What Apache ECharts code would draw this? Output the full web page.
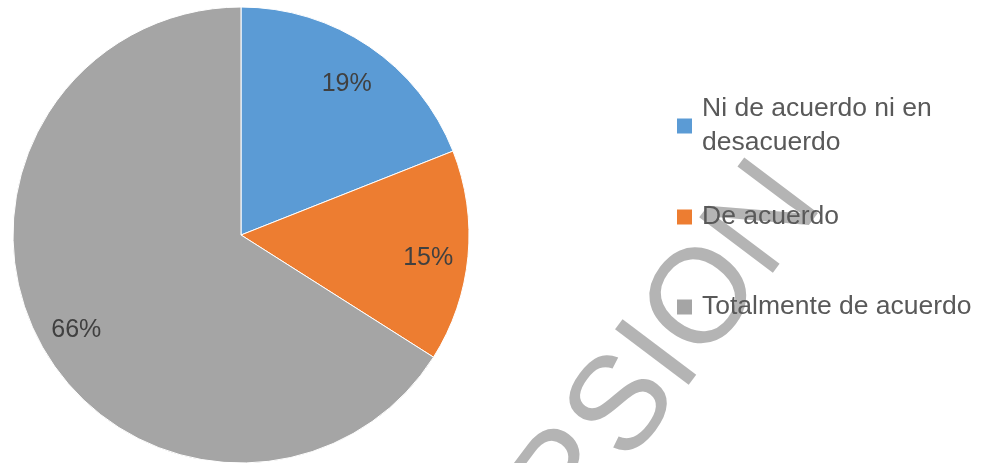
<!DOCTYPE html>
<html>
<head>
<meta charset="utf-8">
<script src="https://cdn.jsdelivr.net/npm/echarts@6/dist/echarts.min.js"></script>
<style>
  html, body { margin: 0; padding: 0; background: #fff; }
  #chart { width: 989px; height: 463px; }
</style>
</head>
<body>
<div id="chart"></div>
<script>
// datos del gráfico
var categories = ["Ni de acuerdo ni en desacuerdo", "De acuerdo", "Totalmente de acuerdo"];
var values = [19, 15, 66];
var colors = ["#5B9BD5", "#ED7D31", "#A5A5A5"];

var chart = echarts.init(document.getElementById("chart"));

var pieData = categories.map(function (name, i) {
  return { name: name, value: values[i], itemStyle: { color: colors[i] } };
});
// serie transparente solo para colocar las etiquetas cerca del borde
var labelData = categories.map(function (name, i) {
  return { name: name, value: values[i] };
});

var FONT = "Liberation Sans";
var LINE = 34;

function oneLegend(name, top, multi) {
  return {
    data: [name],
    orient: "vertical",
    left: 677,
    top: top,
    padding: 0,
    z: 5,
    itemWidth: 15,
    itemHeight: 15,
    icon: "rect",
    itemStyle: { borderWidth: 0 },
    selectedMode: false,
    formatter: function (n) {
      return n === categories[0] ? "Ni de acuerdo ni en\ndesacuerdo" : n;
    },
    textStyle: {
      color: "#595959",
      fontFamily: FONT,
      fontSize: 26.5,
      lineHeight: LINE,
      padding: multi ? [LINE, 0, 0, 5] : [0, 0, 0, 5]
    }
  };
}

var option = {
  backgroundColor: "#fff",
  animation: false,
  legend: [
    oneLegend(categories[0], 126 - LINE * 1.5, true),
    oneLegend(categories[1], 217 - LINE / 2, false),
    oneLegend(categories[2], 307 - LINE / 2, false)
  ],
  graphic: [
    {
      // marca de agua (debajo de la leyenda)
      type: "text",
      x: 795,
      y: 182,
      rotation: 0.925,
      z: 1,
      silent: true,
      style: {
        text: "VERSION",
        font: "134px Liberation Sans",
        fill: "#B4B4B4",
        align: "right",
        verticalAlign: "middle",
        textAlign: "right",
        textVerticalAlign: "middle"
      }
    }
  ],
  series: [
    {
      type: "pie",
      center: [241, 235],
      radius: [0, 228],
      startAngle: 90,
      clockwise: true,
      label: { show: false },
      labelLine: { show: false },
      emphasis: { disabled: true },
      itemStyle: { borderColor: "#fff", borderWidth: 1 },
      data: pieData
    },
    {
      type: "pie",
      center: [241, 235],
      radius: [142, 228],
      startAngle: 90,
      clockwise: true,
      silent: true,
      itemStyle: { color: "rgba(0,0,0,0)" },
      label: {
        show: true,
        position: "inside",
        formatter: "{d}%",
        color: "#404040",
        fontFamily: FONT,
        fontSize: 25
      },
      labelLayout: { dy: 5 },
      percentPrecision: 0,
      labelLine: { show: false },
      emphasis: { disabled: true },
      data: labelData
    }
  ]
};

chart.setOption(option);
</script>
</body>
</html>
